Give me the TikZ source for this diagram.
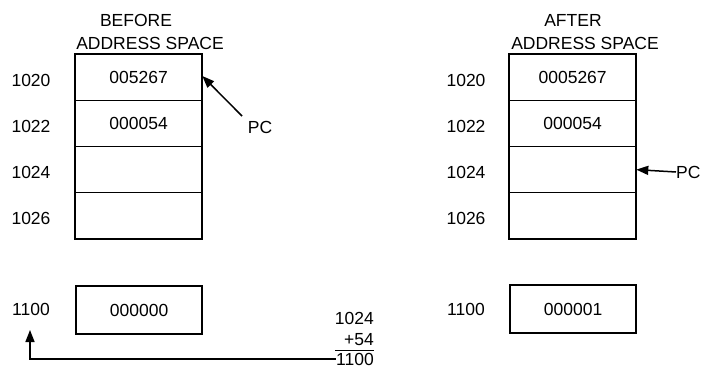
\documentclass[tikz,border=0pt]{standalone}
\usepackage{fontspec}
\setmainfont{Liberation Sans}
\usetikzlibrary{arrows.meta}
\begin{document}
\begin{tikzpicture}[x=1pt,y=-1pt,
  txt/.style={font=\fontsize{17.5}{19}\selectfont, inner sep=0pt},
  cell/.style={draw, line width=1.3pt, minimum width=126pt, minimum height=46pt, inner sep=0pt, font=\fontsize{17.5}{19}\selectfont, anchor=north west},
  frame/.style={draw, line width=2.2pt},
  arr/.style={line width=1.5pt, -{Triangle[length=12pt,width=9pt]}}]
\useasboundingbox (0,0) rectangle (701,369);
% BEFORE
\node[txt] (bt) at (136,20) {BEFORE};
\node[txt] (bs) at (150,43) {ADDRESS SPACE};
\node[cell] (b1) at (75,54) {005267};
\node[cell] (b2) at (75,100) {000054};
\node[cell] (b3) at (75,146) {};
\node[cell] (b4) at (75,192) {};
\draw[frame] (b1.north west) rectangle (b4.south east);
\node[cell, frame, minimum height=48pt] (b5) at (75,285) {000000};
\node[txt] (bl1) at (31,80) {1020};
\node[txt] (bl2) at (31,126) {1022};
\node[txt] (bl3) at (31,172) {1024};
\node[txt] (bl4) at (31,218) {1026};
\node[txt] (bl5) at (31,309) {1100};
\node[txt] (pc1) at (260,127) {PC};
\coordinate (pcs) at (242,116);
\draw[arr] (pcs) -- (b1.east |- 0,76);
% sum
\node[txt, anchor=east] (s1) at (374,318) {1024};
\node[txt, anchor=east] (s2) at (374,340) {+54};
\node[txt, anchor=east] (s3) at (374,359) {1100};
\draw[line width=1pt] (335,350) -- (374,350);
\coordinate (up) at (30,330);
\draw[arr] (s3.west) -| (up);
% AFTER
\node[txt] (at) at (573,20) {AFTER};
\node[txt] (as) at (585,43) {ADDRESS SPACE};
\node[cell] (a1) at (509,54) {0005267};
\node[cell] (a2) at (509,100) {000054};
\node[cell] (a3) at (509,146) {};
\node[cell] (a4) at (509,192) {};
\draw[frame] (a1.north west) rectangle (a4.south east);
\node[cell, frame, minimum height=48pt] (a5) at (509,284) {000001};
\node[txt] (al1) at (466,80) {1020};
\node[txt] (al2) at (466,126) {1022};
\node[txt] (al3) at (466,172) {1024};
\node[txt] (al4) at (466,218) {1026};
\node[txt] (al5) at (466,309) {1100};
\node[txt, anchor=west] (pc2) at (676,172) {PC};
\draw[arr] (pc2.west) -- (a3.east);
\end{tikzpicture}
\end{document}
